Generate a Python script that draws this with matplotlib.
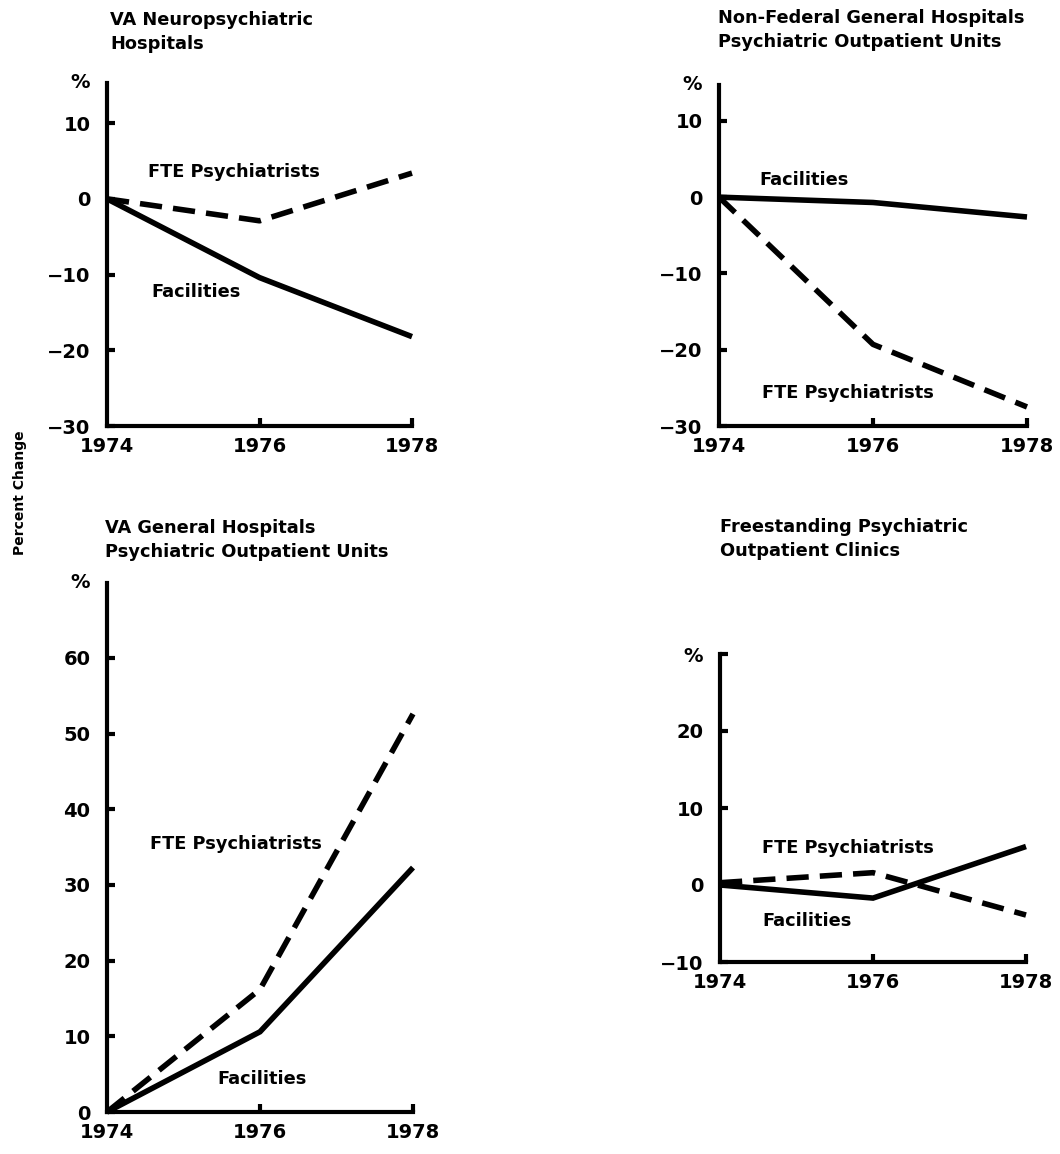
import matplotlib
matplotlib.use("Agg")
import matplotlib.pyplot as plt
import matplotlib.transforms as mtransforms

# ---------------- data ----------------
years = [1974, 1976, 1978]
year_labels = ["1974", "1976", "1978"]

va_np_facilities = [0, -10.4, -18.2]
va_np_fte = [0, -2.9, 3.4]

nf_gen_facilities = [0, -0.7, -2.6]
nf_gen_fte = [0, -19.3, -27.5]

va_gen_facilities = [0, 10.6, 32.3]
va_gen_fte = [0, 16.2, 52.6]

fs_facilities = [0, -1.7, 5.0]
fs_fte = [0.3, 1.6, -3.9]

titles = [
    "VA Neuropsychiatric\nHospitals",
    "Non-Federal General Hospitals\nPsychiatric Outpatient Units",
    "VA General Hospitals\nPsychiatric Outpatient Units",
    "Freestanding Psychiatric\nOutpatient Clinics",
]
ticks_a = [-30, -20, -10, 0, 10]
ticks_b = [0, 10, 20, 30, 40, 50, 60]
ticks_d = [-10, 0, 10, 20]

W, H = 1060, 1154
FONT = "DejaVu Sans"
plt.rcParams["font.family"] = [FONT]
plt.rcParams["font.weight"] = "bold"

fig = plt.figure(figsize=(W / 100, H / 100), dpi=100)
fig.patch.set_facecolor("white")


def px_axes(l, r, b, t):
    return fig.add_axes([l / W, 1 - b / H, (r - l) / W, (b - t) / H])


panels = [
    dict(box=(107, 412, 426, 83), ylim=(-30, 15.3), yt=ticks_a, fac=va_np_facilities, fte=va_np_fte,
         title=titles[0], tpos=(110, 32),
         lab_fte=(1974.54, 3.6), lab_fac=(1974.58, -12.3), pct_tick=False),
    dict(box=(719, 1027, 426, 85), ylim=(-30, 14.7), yt=ticks_a, fac=nf_gen_facilities, fte=nf_gen_fte,
         title=titles[1], tpos=(718, 30),
         lab_fte=(1974.56, -25.7), lab_fac=(1974.52, 2.2), pct_tick=False),
    dict(box=(107, 413, 1112, 583), ylim=(0, 69.9), yt=ticks_b, fac=va_gen_facilities, fte=va_gen_fte,
         title=titles[2], tpos=(105, 540),
         lab_fte=(1974.56, 35.4), lab_fac=(1975.44, 4.4), pct_tick=False),
    dict(box=(720, 1026, 962, 654), ylim=(-10, 30), yt=ticks_d, fac=fs_facilities, fte=fs_fte,
         title=titles[3], tpos=(720, 539),
         lab_fte=(1974.55, 4.8), lab_fac=(1974.55, -4.7), pct_tick=True),
]

LW = 4.0
SPW = 3.0
LABEL_FS = 12.8
TICK_FS = 14

for p in panels:
    l, r, b, t = p["box"]
    ax = px_axes(l, r, b, t)
    ax.set_facecolor("none")
    ax.set_xlim(years[0], years[-1])
    ax.set_ylim(*p["ylim"])

    ax.plot(years, p["fac"], color="black", lw=LW, solid_capstyle="butt",
            solid_joinstyle="miter", clip_on=False, zorder=3)
    ax.plot(years, p["fte"], color="black", lw=LW, dashes=(4, 2),
            dash_capstyle="butt", clip_on=False, zorder=3)

    for s in ("top", "right"):
        ax.spines[s].set_visible(False)
    for s in ("left", "bottom"):
        ax.spines[s].set_linewidth(SPW)
        ax.spines[s].set_capstyle("projecting")

    yt = list(p["yt"])
    ylabels = [("\u2212" + str(-v)) if v < 0 else str(v) for v in yt]
    if p["pct_tick"]:
        yt = yt + [p["ylim"][1]]
        ylabels = ylabels + ["%"]
    else:
        ax.text(-0.056, 1.0, "%", transform=ax.transAxes, ha="right", va="center",
                fontsize=TICK_FS, fontweight="bold")
    ax.set_yticks(yt)
    ax.set_yticklabels(ylabels, fontsize=TICK_FS, fontweight="bold")
    ax.set_xticks(years[1:])
    ax.set_xticklabels(year_labels[1:], fontsize=TICK_FS, fontweight="bold")
    ax.tick_params(axis="y", direction="in", length=6, width=SPW, pad=12)
    ax.tick_params(axis="x", direction="in", length=6, width=SPW, pad=8)
    # 1974 label under the spine corner, same baseline as the other year labels
    ax.text(years[0], 0, year_labels[0],
            transform=ax.get_xaxis_transform() + mtransforms.ScaledTranslation(0, -8 / 72, fig.dpi_scale_trans),
            ha="center", va="top", fontsize=TICK_FS, fontweight="bold")

    ax.text(*p["lab_fte"], "FTE Psychiatrists", ha="left", va="center",
            fontsize=LABEL_FS, fontweight="bold")
    ax.text(*p["lab_fac"], "Facilities", ha="left", va="center",
            fontsize=LABEL_FS, fontweight="bold")

    tx, ty = p["tpos"]
    fig.text(tx / W, 1 - ty / H, p["title"], ha="left", va="center",
             fontsize=LABEL_FS, fontweight="bold", linespacing=1.4)

fig.text(20 / W, 1 - 493 / H, "Percent Change", rotation=90, ha="center", va="center",
         fontsize=10, fontweight="bold")

fig.savefig("out.png", dpi=100, facecolor="white")
